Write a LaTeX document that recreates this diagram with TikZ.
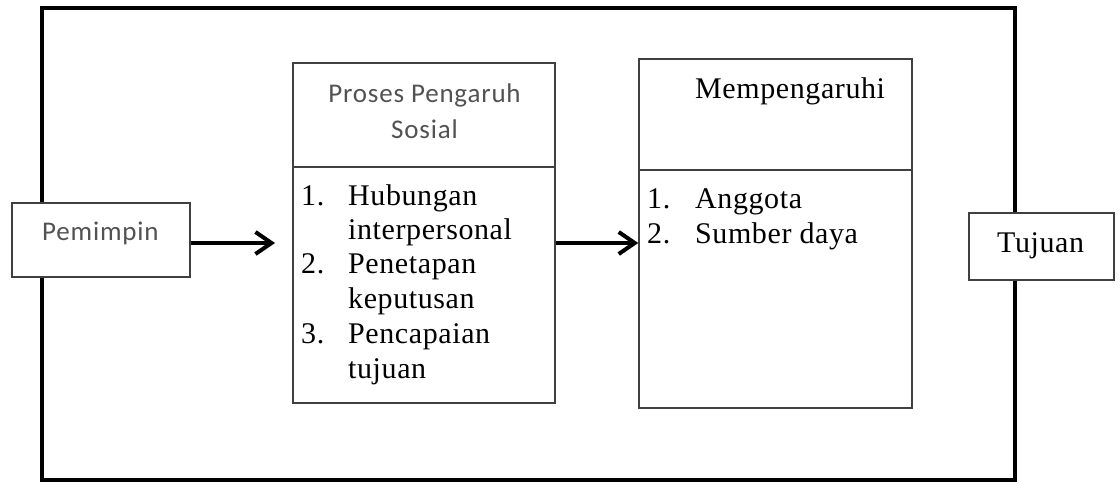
\documentclass[tikz,border=0pt]{standalone}
\usepackage{fontspec}
\setmainfont{Liberation Serif}[LetterSpace=2]
\newfontfamily\calib{Carlito}[LetterSpace=3]
\usetikzlibrary{arrows.meta}

\tikzset{
  frame/.style={draw=black, line width=4pt, fill=none, inner sep=0pt},
  box/.style={draw=black!75, line width=1.5pt, fill=white, inner sep=0pt},
  arr/.style={draw=black, line width=4pt, -{Straight Barb[length=16pt, width=22pt]}},
  sanstxt/.style={font=\calib\fontsize{27}{36}\selectfont, text=black!68, inner sep=0pt, anchor=base west},
  sertxt/.style={font=\fontsize{30}{34}\selectfont, text=black, inner sep=0pt, anchor=base west},
}

\begin{document}
\begin{tikzpicture}[x=1pt, y=-1pt]
  \useasboundingbox (0,0) rectangle (1120,483);

  % outer frame
  \node[frame, minimum width=973pt, minimum height=472pt] (frame) at (528.5,244) {};

  % boxes
  \node[box, minimum width=178pt, minimum height=74pt] (lead) at (101,240) {};
  \node[box, minimum width=262pt, minimum height=104pt] (ptop) at (424,115) {};
  \node[box, minimum width=262pt, minimum height=236pt] (pbot) at (424,285) {};
  \node[box, minimum width=273pt, minimum height=111pt] (mtop) at (775.5,114.5) {};
  \node[box, minimum width=273pt, minimum height=238pt] (mbot) at (775.5,289) {};
  \node[box, minimum width=145pt, minimum height=67pt] (goal) at (1041.5,246.5) {};

  % texts
  \node[sanstxt] (tlead) at (42,240) {Pemimpin};
  \node[sanstxt, anchor=base] (tp1) at (424.5,102) {Proses Pengaruh};
  \node[sanstxt, anchor=base] (tp2) at (424.5,138) {Sosial};

  \node[sertxt] (n1) at (301,205) {1.};
  \node[sertxt] (l1) at (348,205) {Hubungan};
  \node[sertxt] (l2) at (348,239) {interpersonal};
  \node[sertxt] (n2) at (301,273) {2.};
  \node[sertxt] (l3) at (348,273) {Penetapan};
  \node[sertxt] (l4) at (348,308) {keputusan};
  \node[sertxt] (n3) at (301,343) {3.};
  \node[sertxt] (l5) at (348,343) {Pencapaian};
  \node[sertxt] (l6) at (348,378) {tujuan};

  \node[sertxt] (tm) at (695,98) {Mempengaruhi};
  \node[sertxt] (m1) at (647,208) {1.};
  \node[sertxt] (k1) at (695,208) {Anggota};
  \node[sertxt] (m2) at (647,243) {2.};
  \node[sertxt] (k2) at (695,243) {Sumber daya};

  \node[sertxt] (tgoal) at (997,252) {Tujuan};

  % connectors
  \coordinate (row) at (0,243);
  \coordinate (tip1) at (275,243);
  \draw[arr] (lead.east |- row) -- (tip1);
  \draw[arr] (pbot.east |- row) -- (mbot.west |- row);
\end{tikzpicture}
\end{document}
